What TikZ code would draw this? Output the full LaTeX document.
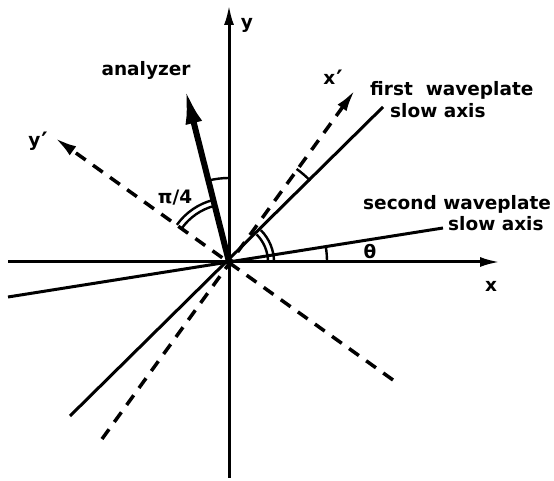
\documentclass[tikz,border=0pt]{standalone}
\usepackage{fontspec}
\setmainfont{DejaVu Sans}
\usetikzlibrary{arrows.meta}
\tikzset{
  axis/.style={line width=3pt,-{Latex[length=20pt,width=10pt]}},
  plain/.style={line width=3pt},
  dashaxis/.style={line width=3.5pt,dash pattern=on 12pt off 9pt,-{Latex[length=22pt,width=11pt]}},
  anal/.style={line width=6pt,-{Latex[length=36pt,width=17pt]}},
  angarc/.style={line width=2.4pt},
  lbl/.style={font=\fontsize{18.5}{22}\selectfont\bfseries,inner sep=0pt}
}
\begin{document}
\begin{tikzpicture}[x=1pt,y=1pt]
\useasboundingbox (0,0) rectangle (554,481);
\coordinate (O) at (229,219);
\coordinate (yb) at (229,3);
\coordinate (yt) at (229,476);
\coordinate (xl) at (8,219);
\coordinate (xr) at (500,219);
\coordinate (sl) at (8,184);
\coordinate (sr) at (443,253);
\coordinate (fl) at (70,65);
\coordinate (fr) at (383,374);
\coordinate (xpl) at (102,42);
\coordinate (xpr) at (355,391);
\coordinate (ypl) at (393,101);
\coordinate (ypr) at (55,343);
\coordinate (an) at (185,393);
% axes
\draw[axis] (yb) -- (yt);
\draw[axis] (xl) -- (xr);
% waveplate axes
\draw[plain] (sl) -- (sr);
\draw[plain] (fl) -- (fr);
% rotated frame
\draw[dashaxis] (xpl) -- (xpr);
\draw[dashaxis] (ypl) -- (ypr);
% analyzer
\draw[anal] (O) -- (an);
% angle arcs
\draw[angarc] (O) ++(0:98) arc (0:9:98);
\draw[angarc] (O) ++(0:39) arc (0:45:39);
\draw[angarc] (O) ++(0:45) arc (0:45:45);
\draw[angarc] (O) ++(45:115) arc (45:54:115);
\draw[angarc] (O) ++(90:84) arc (90:104.5:84);
\draw[angarc] (O) ++(104.5:58) arc (104.5:144.5:58);
\draw[angarc] (O) ++(104.5:64) arc (104.5:144.5:64);
% labels
\node[lbl] (ly) at (247,456) {y};
\node[lbl] (lx) at (491,195) {x};
\node[lbl] (lxp) at (333,402) {x\kern1pt\raisebox{-3pt}{\fontsize{24}{24}\selectfont ′}};
\node[lbl] (lyp) at (38,340) {y\kern1pt\raisebox{-3pt}{\fontsize{24}{24}\selectfont ′}};
\node[lbl] (lan) at (146,411) {analyzer};
\node[lbl,anchor=west] (lf1) at (370,391) {first\ \ waveplate};
\node[lbl,anchor=west] (lf2) at (390,370) {slow axis};
\node[lbl,anchor=west] (ls1) at (363,277) {second waveplate};
\node[lbl,anchor=west] (ls2) at (448,257) {slow axis};
\node[lbl] (lth) at (370,229) {θ};
\node[lbl] (lpi) at (175,283) {π/4};
\end{tikzpicture}
\end{document}
